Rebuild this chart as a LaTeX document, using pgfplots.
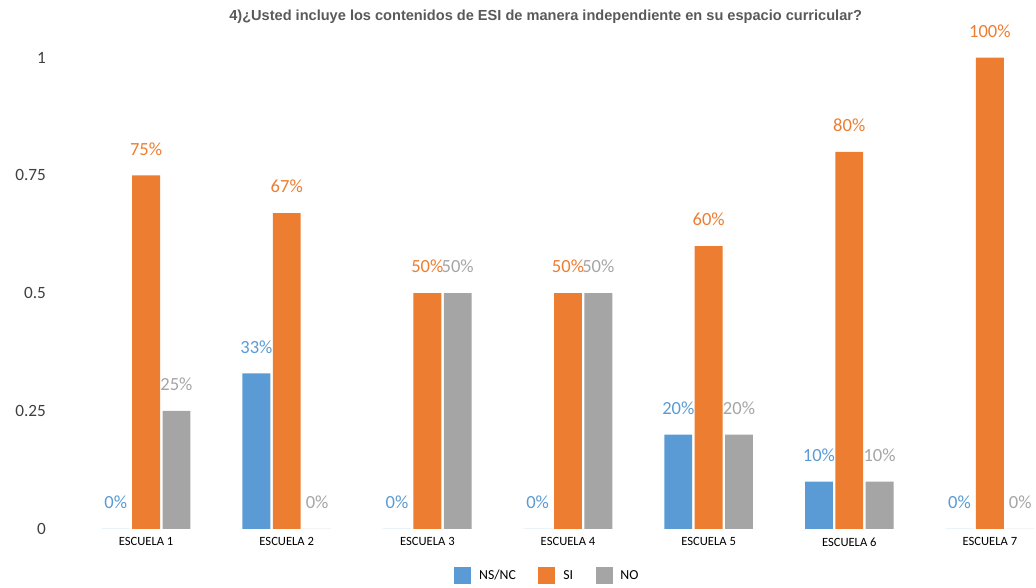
\documentclass[border=0pt]{standalone}
\usepackage{pgfplots}
\pgfplotsset{compat=1.18}
\usepackage{fontspec}
\setmainfont{Carlito}
\newfontfamily\titlefont{Liberation Sans}
\definecolor{cblue}{HTML}{5B9BD5}
\definecolor{corange}{HTML}{ED7D31}
\definecolor{cgray}{HTML}{A5A5A5}
\definecolor{ctick}{HTML}{404040}
\definecolor{ctitle}{HTML}{595959}
\begin{document}
\begin{tikzpicture}
\begin{axis}[
  x=106.125pt, y=355.5pt,
  xmin=0.5, xmax=7.283, ymin=0, ymax=1,
  clip=false,
  axis line style={draw=none},
  tick style={draw=none},
  ybar, bar width=21pt, ybar=1.9pt,
  xtick={1,2,3,4,5,6,7},
  xticklabels={ESCUELA 1,ESCUELA 2,ESCUELA 3,ESCUELA 4,ESCUELA 5,ESCUELA 6,ESCUELA 7},
  xticklabel style={font=\fontsize{9.5}{11}\selectfont, text=black, yshift=1pt},
  ytick={0,0.25,0.5,0.75,1},
  yticklabels={0,0.25,0.5,0.75,1},
  yticklabel style={font=\fontsize{13}{15}\selectfont, text=ctick, xshift=-19pt},
  point meta={y*100},
  nodes near coords={\pgfmathprintnumber[fixed,precision=0,assume math mode=true]{\pgfplotspointmeta}\%},
  every node near coord/.append style={font=\fontsize{14}{16}\selectfont, anchor=center, yshift=20pt},
  legend style={at={(0.4947,-0.1)}, anchor=center, draw=none, fill=none,
    legend columns=3, font=\fontsize{10.4}{12}\selectfont,
    /tikz/every even column/.append style={column sep=15pt},
    /tikz/every odd column/.append style={column sep=4pt}},
  legend image code/.code={\fill[#1] (0pt,-6.5pt) rectangle (12.75pt,6.5pt);},
]
\addplot[fill=cblue, draw=none, every node near coord/.append style={text=cblue}] coordinates {(1,0) (2,0.33) (3,0) (4,0) (5,0.2) (6,0.1) (7,0)};
\addplot[fill=corange, draw=none, every node near coord/.append style={text=corange}] coordinates {(1,0.75) (2,0.67) (3,0.5) (4,0.5) (5,0.6) (6,0.8) (7,1)};
\addplot[fill=cgray, draw=none, every node near coord/.append style={text=cgray}] coordinates {(1,0.25) (2,0) (3,0.5) (4,0.5) (5,0.2) (6,0.1) (7,0)};
\legend{NS/NC,SI,NO}
\path (axis cs:-0.0389,-0.116) rectangle (axis cs:7.283,1.1224);
\node[font=\titlefont\bfseries\fontsize{11}{13}\selectfont, text=ctitle] at (axis cs:3.841,1.0865) {4)¿Usted incluye los contenidos de ESI de manera independiente en su espacio curricular?};
\end{axis}
\end{tikzpicture}
\end{document}
